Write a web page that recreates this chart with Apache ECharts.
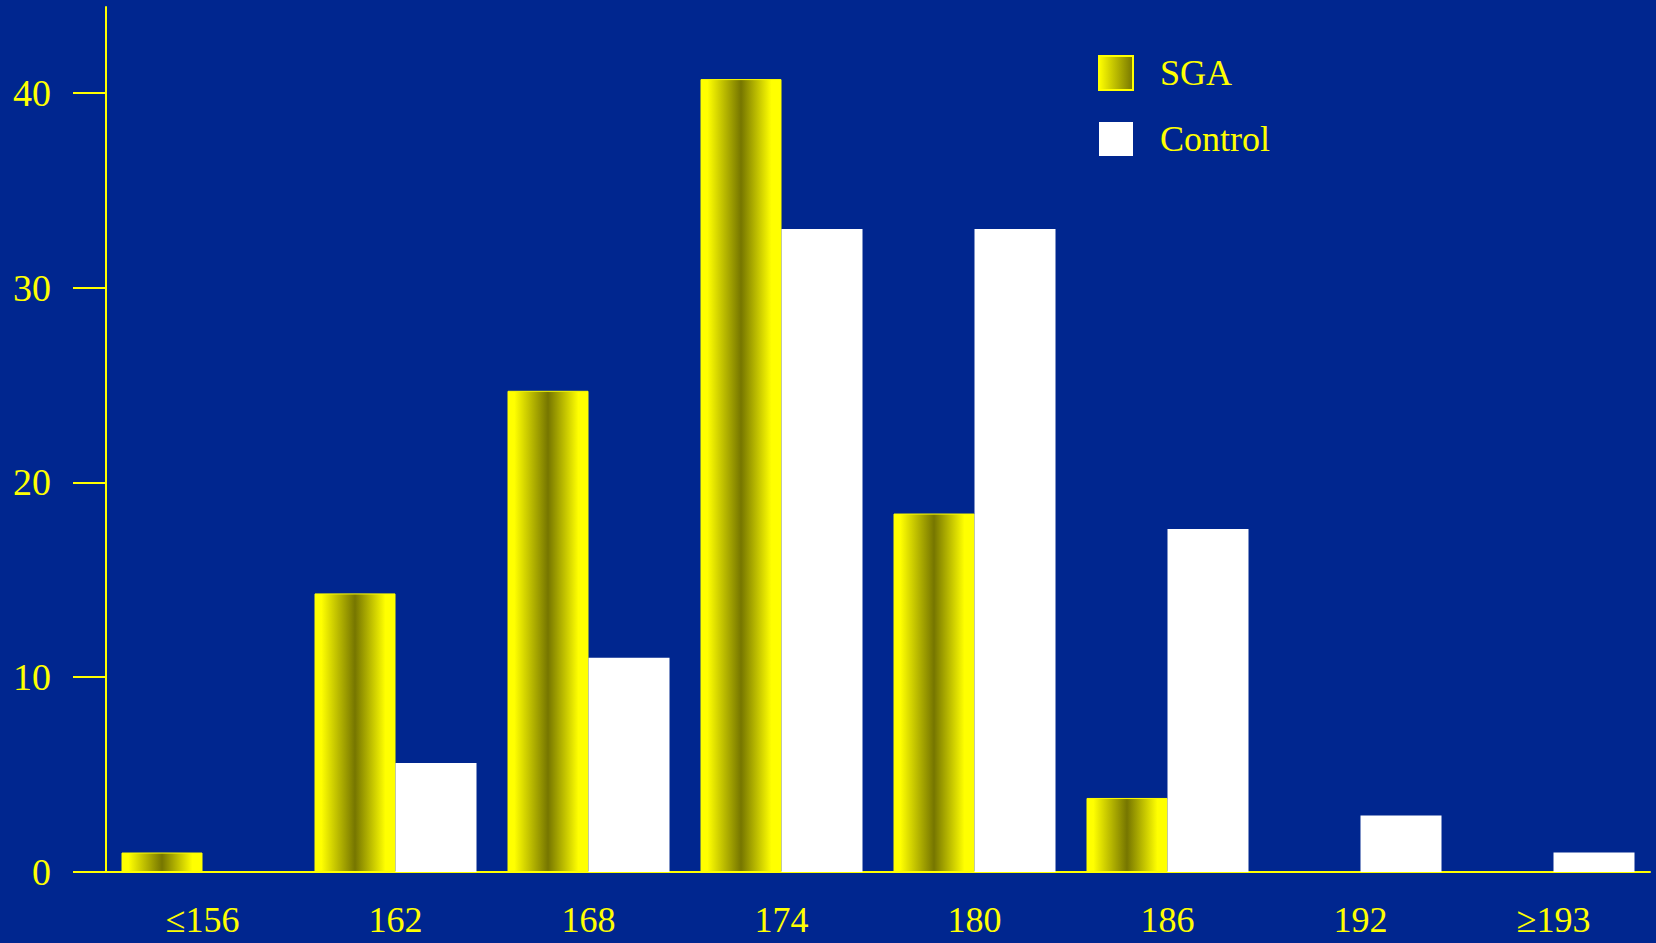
<!DOCTYPE html>
<html>
<head>
<meta charset="utf-8">
<script src="https://cdn.jsdelivr.net/npm/echarts@6/dist/echarts.min.js"></script>
<style>
  html, body { margin: 0; padding: 0; background: #00268f; }
  #chart { width: 1656px; height: 943px; }
</style>
</head>
<body>
<div id="chart"></div>
<script>
// ====== Birth length distribution: SGA vs Control ======
var categories = ['≤156', '162', '168', '174', '180', '186', '192', '≥193'];
var sgaValues = [1.0, 14.3, 24.7, 40.7, 18.4, 3.8, 0, 0];
var controlValues = [0, 5.6, 11.0, 33.0, 33.0, 17.6, 2.9, 1.0];
var yMin = 0, yMax = 44.4, yStep = 10;

(function() {
  var bg = '#00268f';
  var yellow = '#ffff00';
  var olive = '#767600';
  var font = "'Liberation Serif', 'Times New Roman', serif";

  // cylinder-like shading across each SGA bar
  var sgaFill = {
    type: 'linear', x: 0, y: 0, x2: 1, y2: 0,
    colorStops: [
      { offset: 0, color: yellow },
      { offset: 0.08, color: yellow },
      { offset: 0.5, color: olive },
      { offset: 0.88, color: yellow },
      { offset: 1, color: yellow }
    ]
  };
  var sgaIcon = {
    type: 'linear', x: 0, y: 0, x2: 1, y2: 0,
    colorStops: [
      { offset: 0, color: yellow },
      { offset: 1, color: olive }
    ]
  };

  var chart = echarts.init(document.getElementById('chart'), null, { renderer: 'svg' });

  chart.setOption({
    animation: false,
    backgroundColor: bg,
    textStyle: { fontFamily: font },
    legend: {
      orient: 'vertical',
      left: 1098, top: 55, padding: 0,
      itemWidth: 34, itemHeight: 34, itemGap: 30,
      icon: 'rect',
      textStyle: { color: yellow, fontSize: 36, fontFamily: font, padding: [0, 0, 0, 22] },
      data: [
        { name: 'SGA', itemStyle: { color: sgaIcon, borderColor: yellow, borderWidth: 2 } },
        { name: 'Control', itemStyle: { color: '#ffffff' } }
      ]
    },
    grid: { left: 106, right: 6, top: 7, bottom: 71 },
    xAxis: {
      type: 'category',
      data: categories,
      axisLine: { lineStyle: { color: yellow, width: 2 } },
      axisTick: { show: false },
      axisLabel: { color: yellow, fontSize: 36, fontFamily: font, margin: 30, interval: 0 }
    },
    yAxis: {
      type: 'value',
      min: yMin, max: yMax, interval: yStep,
      axisLine: { show: true, lineStyle: { color: yellow, width: 2 } },
      axisTick: { show: true, length: 33, lineStyle: { color: yellow, width: 2 } },
      axisLabel: {
        color: yellow, fontSize: 38, fontFamily: font, margin: 55,
        showMaxLabel: false
      },
      splitLine: { show: false }
    },
    series: [
      {
        name: 'SGA',
        type: 'bar',
        data: sgaValues,
        barWidth: 81,
        barGap: '0%',
        itemStyle: { color: sgaFill, borderColor: yellow, borderWidth: 1 }
      },
      {
        name: 'Control',
        type: 'bar',
        data: controlValues,
        barWidth: 81,
        itemStyle: { color: '#ffffff' }
      }
    ]
  });

  window.addEventListener('resize', function() { chart.resize(); });
})();
</script>
</body>
</html>
